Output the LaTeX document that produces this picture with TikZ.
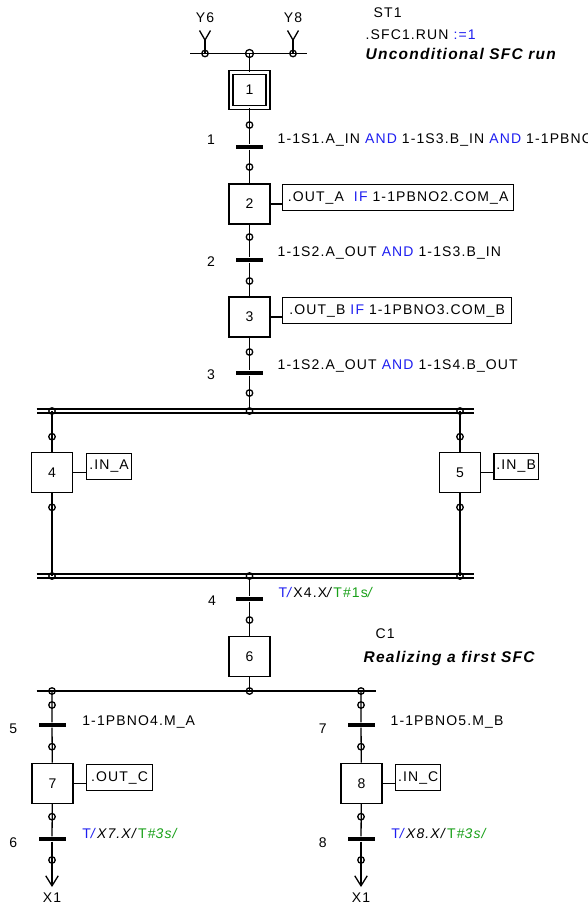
\documentclass[tikz,border=0pt]{standalone}
\usepackage{fontspec}
\setmainfont{Liberation Sans}[LetterSpace=8]
\usetikzlibrary{arrows.meta, positioning, calc}
\definecolor{sfcblue}{HTML}{1E1EF0}
\definecolor{sfcgreen}{HTML}{18A018}
\tikzset{
  stepbox/.style={draw, minimum width=41pt, minimum height=40pt, inner sep=0pt},
  initbox/.style={draw, double, double distance=2.8pt, minimum width=37pt, minimum height=35.5pt, inner sep=0pt},
  actbox/.style={draw, anchor=north west, minimum height=26pt, inner sep=2pt},
  bar/.style={fill=black, minimum width=27pt, minimum height=4pt, inner sep=0pt},
  port/.style={circle, draw, minimum size=6.5pt, inner sep=0pt},
  bus/.style={double, double distance=2.7pt},
  cond/.style={anchor=west, inner sep=0pt},
  tnum/.style={inner sep=0pt},
  note/.style={anchor=west, inner sep=0pt},
  remark/.style={note, font=\fontsize{15.5}{17}\selectfont\bfseries\itshape},
  jump/.style={-{Straight Barb[length=10pt, width=12.5pt]}},
}

\begin{document}
\begin{tikzpicture}[x=1pt, y=-1pt, line width=1.3pt, font=\fontsize{14}{16}\selectfont]
  \useasboundingbox (0,0) rectangle (587,908);

  % comments
  \node[note] (st1) at (373,13) {ST1};
  \node[note] (run) at (365,35) {.SFC1.RUN \textcolor{sfcblue}{:=1}};
  \node[remark] (uncond) at (365,54) {Unconditional SFC run};
  \node[note] (c1) at (375,634) {C1};
  \node[remark] (realize) at (363,658) {Realizing a first SFC};

  % entry from Y6 and Y8
  \node (y6) at (205,18) {Y6};
  \node (y8) at (293,18) {Y8};
  \coordinate (v6) at (205,40);
  \coordinate (v8) at (293,40);
  \coordinate (topL) at (190,53.5);
  \coordinate (topR) at (307,53.5);
  \draw (topL) -- (topR);
  \draw ($(v6)+(-5.5,-9.5)$) -- (v6) -- ($(v6)+(5.5,-9.5)$);
  \draw ($(v8)+(-5.5,-9.5)$) -- (v8) -- ($(v8)+(5.5,-9.5)$);
  \draw (v6) -- (v6 |- topL);
  \draw (v8) -- (v8 |- topL);

  % main sequence
  \node[initbox] (s1) at (249.5,90) {1};
  \node[bar] (t1) at (249.5,147) {};
  \node[stepbox] (s2) at (249.5,204) {2};
  \node[bar] (t2) at (249.5,260) {};
  \node[stepbox] (s3) at (249.5,317) {3};
  \node[bar] (t3) at (249.5,373) {};
  \coordinate (busA) at (249.5,411);
  \coordinate (busB) at (249.5,576);
  \node[bar] (t4) at (249.5,599) {};
  \node[stepbox] (s6) at (249.5,656.5) {6};
  \coordinate (divL) at (36.7,691);
  \coordinate (divR) at (376,691);

  \draw (s1) -- (s1 |- topL);
  \draw (s1) -- (t1) -- (s2) -- (t2) -- (s3) -- (t3) -- (busA);
  \draw (busB) -- (t4) -- (s6) -- (s6 |- divL);

  \node[tnum] (n1) at (211,140) {1};
  \node[tnum] (n2) at (211,262) {2};
  \node[tnum] (n3) at (211,375) {3};
  \node[tnum] (n4) at (212,601) {4};
  \node[cond] (c-t1) at (277,140) {1-1S1.A\_IN \textcolor{sfcblue}{AND} 1-1S3.B\_IN \textcolor{sfcblue}{AND} 1-1PBNO};
  \node[cond] (c-t2) at (277,253) {1-1S2.A\_OUT \textcolor{sfcblue}{AND} 1-1S3.B\_IN};
  \node[cond] (c-t3) at (277,366) {1-1S2.A\_OUT \textcolor{sfcblue}{AND} 1-1S4.B\_OUT};
  \node[cond] (c-t4) at (278,592) {\textcolor{sfcblue}{T\textit{/}}X4.X\textit{/}\textcolor{sfcgreen}{T\#1s\textit{/}}};

  % actions
  \node[actbox, minimum width=231pt] (a2) at (282,184) {.OUT\_A \ \textcolor{sfcblue}{IF} 1-1PBNO2.COM\_A};
  \node[actbox, minimum width=229pt] (a3) at (282,297) {.OUT\_B \textcolor{sfcblue}{IF} 1-1PBNO3.COM\_B};
  \draw (s2.east) -- (s2.east -| a2.west);
  \draw (s3.east) -- (s3.east -| a3.west);

  % simultaneous branches
  \draw[bus] (36.7,411) -- (474,411);
  \draw[bus] (36.7,576) -- (474,576);
  \node[stepbox] (s4) at (52,472.7) {4};
  \node[stepbox] (s5) at (460,472.7) {5};
  \node[actbox, minimum width=44.7pt] (a4) at (86,452.7) {.IN\_A};
  \node[actbox, minimum width=44.4pt] (a5) at (493.3,452.7) {.IN\_B};
  \draw (s4) -- (s4 |- busA);
  \draw (s4) -- (s4 |- busB);
  \draw (s5) -- (s5 |- busA);
  \draw (s5) -- (s5 |- busB);
  \draw (s4.east) -- (s4.east -| a4.west);
  \draw (s5.east) -- (s5.east -| a5.west);

  % alternative branches
  \draw (divL) -- (divR);
  \node[bar] (t5) at (52,725) {};
  \node[stepbox] (s7) at (52.5,783.3) {7};
  \node[bar] (t6) at (52,839) {};
  \coordinate (x1a) at (52,887);
  \node[bar] (t7) at (361,725) {};
  \node[stepbox] (s8) at (361.5,783.3) {8};
  \node[bar] (t8) at (361,839) {};
  \coordinate (x1b) at (361,887);
  \draw (t5 |- divL) -- (t5) -- (s7) -- (t6);
  \draw[jump] (t6) -- (x1a);
  \draw (t7 |- divL) -- (t7) -- (s8) -- (t8);
  \draw[jump] (t8) -- (x1b);
  \node (x1l) at (52,898) {X1};
  \node (x1r) at (361,898) {X1};

  \node[tnum] (n5) at (13.3,729) {5};
  \node[tnum] (n6) at (13.3,843) {6};
  \node[tnum] (n7) at (322.7,729) {7};
  \node[tnum] (n8) at (322.7,843) {8};
  \node[cond] (c-t5) at (81.7,722) {1-1PBNO4.M\_A};
  \node[cond] (c-t6) at (81.7,833.3) {\textcolor{sfcblue}{T\textit{/}}\textit{X7.X/}\textcolor{sfcgreen}{T\#\textit{3s/}}};
  \node[cond] (c-t7) at (390,722) {1-1PBNO5.M\_B};
  \node[cond] (c-t8) at (390.7,833.3) {\textcolor{sfcblue}{T\textit{/}}\textit{X8.X/}\textcolor{sfcgreen}{T\#\textit{3s/}}};

  \node[actbox, minimum width=65.7pt] (a7) at (86,764) {.OUT\_C};
  \node[actbox, minimum width=45pt] (a8) at (395,764) {.IN\_C};
  \draw (s7.east) -- (s7.east -| a7.west);
  \draw (s8.east) -- (s8.east -| a8.west);

  % connection points
  \node[port, minimum size=8pt] at (249.5,53.5) {};
  \foreach \px in {205,293}
    \node[port] at (\px,53.5) {};
  \foreach \py in {125,167,237,281,352,393,411,576,620,691}
    \node[port] at (249.5,\py) {};
  \foreach \px in {52,460}
    \foreach \py in {411,436.7,507.3,576}
      \node[port] at (\px,\py) {};
  \foreach \px in {52,361}
    \foreach \py in {691,705,746.7,816.7,860}
      \node[port] at (\px,\py) {};
\end{tikzpicture}
\end{document}
